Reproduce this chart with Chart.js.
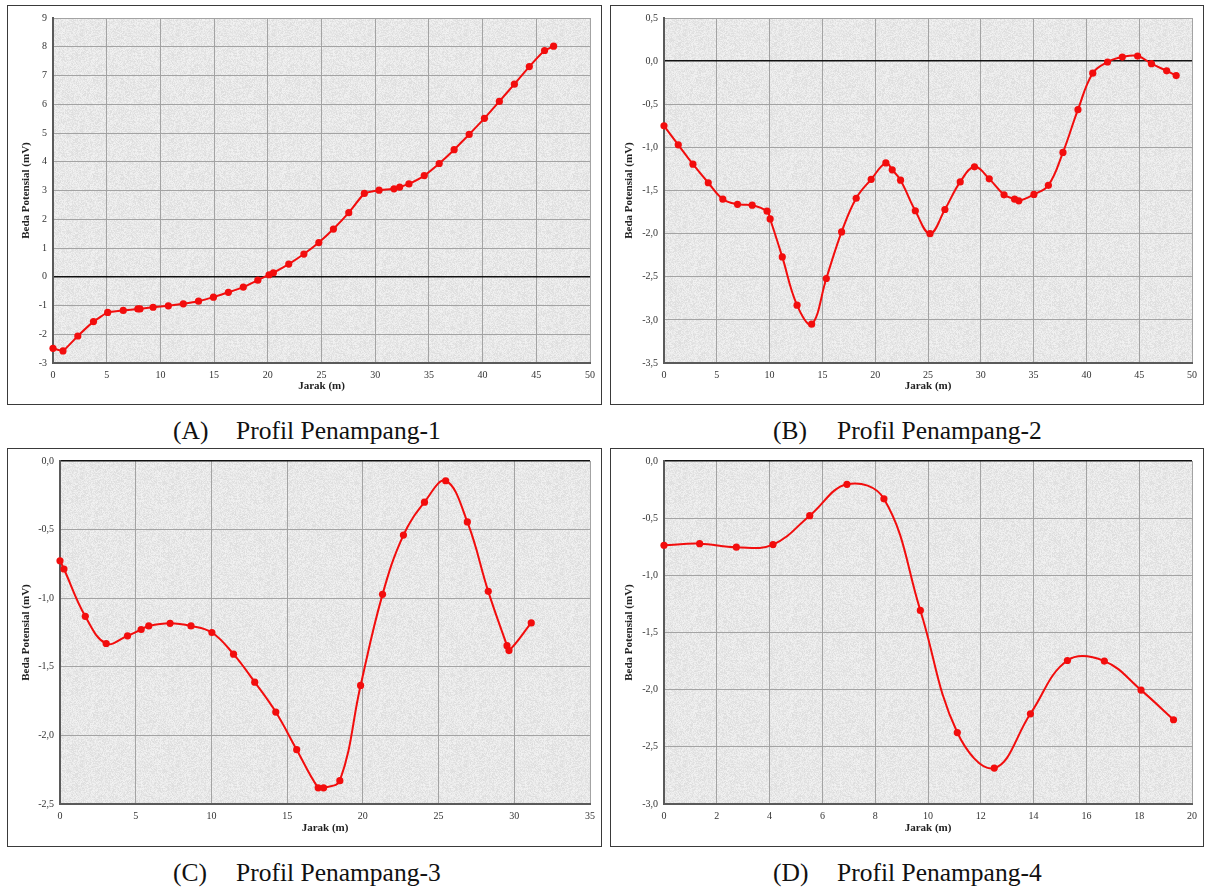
<!DOCTYPE html>
<html>
<head>
<meta charset="utf-8">
<script src="https://cdn.jsdelivr.net/npm/chart.js@4.4.0/dist/chart.umd.min.js"></script>
<style>
  body { margin: 0; background: #fff; width: 1205px; height: 889px; position: relative; overflow: hidden; }
  .panel { position: absolute; border: 1px solid #3a3a3a; box-sizing: border-box; }
  .panel canvas { position: absolute; left: 0; top: 0; }
  .cap { position: absolute; font-family: "Liberation Serif", "Times New Roman", serif; font-size: 25.5px; color: #111; white-space: nowrap; line-height: 1; }
</style>
</head>
<body>
<div class="panel" style="left:7px;top:5px;width:595px;height:400px"><canvas id="chartA" width="593" height="398"></canvas></div>
<div class="panel" style="left:610px;top:5px;width:594px;height:400px"><canvas id="chartB" width="592" height="398"></canvas></div>
<div class="panel" style="left:7px;top:448px;width:595px;height:399px"><canvas id="chartC" width="593" height="397"></canvas></div>
<div class="panel" style="left:610px;top:448px;width:594px;height:399px"><canvas id="chartD" width="592" height="397"></canvas></div>

<div class="cap" style="left:173px;top:418px">(A)</div><div class="cap" style="left:236px;top:418px">Profil Penampang-1</div>
<div class="cap" style="left:773px;top:418px">(B)</div><div class="cap" style="left:837px;top:418px">Profil Penampang-2</div>
<div class="cap" style="left:173px;top:860px">(C)</div><div class="cap" style="left:236px;top:860px">Profil Penampang-3</div>
<div class="cap" style="left:773px;top:860px">(D)</div><div class="cap" style="left:837px;top:860px">Profil Penampang-4</div>

<script>
// data (jarak in m, beda potensial in mV)
const jarak1 = [0, 0.93, 2.31, 3.77, 5.09, 6.54, 7.9, 8.1, 9.32, 10.74, 12.13, 13.55, 14.94, 16.33, 17.72, 19.07, 20.12, 20.52, 21.95, 23.36, 24.75, 26.11, 27.54, 28.99, 30.36, 31.75, 32.28, 33.14, 34.57, 35.96, 37.35, 38.75, 40.17, 41.56, 42.96, 44.35, 45.77, 46.61]
const potensial1 = [-2.49, -2.58, -2.06, -1.56, -1.24, -1.17, -1.12, -1.12, -1.06, -1.01, -0.94, -0.85, -0.71, -0.54, -0.36, -0.12, 0.07, 0.14, 0.44, 0.79, 1.19, 1.66, 2.23, 2.90, 3.01, 3.06, 3.12, 3.23, 3.52, 3.94, 4.42, 4.95, 5.51, 6.10, 6.70, 7.31, 7.87, 8.02]

const jarak2 = [0, 1.35, 2.74, 4.19, 5.57, 6.96, 8.35, 9.76, 10.05, 11.2, 12.6, 13.98, 15.37, 16.82, 18.2, 19.62, 21.01, 21.61, 22.4, 23.8, 25.19, 26.6, 28.05, 29.4, 30.8, 32.2, 33.2, 33.6, 35.03, 36.4, 37.78, 39.2, 40.6, 42.0, 43.4, 44.85, 46.16, 47.6, 48.5]
const potensial2 = [-0.75, -0.97, -1.195, -1.41, -1.60, -1.66, -1.67, -1.74, -1.83, -2.27, -2.83, -3.05, -2.52, -1.98, -1.59, -1.37, -1.18, -1.26, -1.38, -1.735, -2.00, -1.72, -1.40, -1.226, -1.365, -1.55, -1.60, -1.62, -1.545, -1.44, -1.058, -0.563, -0.14, -0.01, 0.047, 0.059, -0.03, -0.113, -0.167]

const jarak3 = [0, 0.26, 1.67, 3.05, 4.46, 5.36, 5.86, 7.27, 8.65, 10.03, 11.46, 12.86, 14.25, 15.63, 17.05, 17.41, 18.48, 19.85, 21.3, 22.68, 24.07, 25.47, 26.9, 28.28, 29.52, 29.65, 31.12]
const potensial3 = [-0.727, -0.787, -1.132, -1.33, -1.274, -1.228, -1.202, -1.183, -1.202, -1.25, -1.408, -1.612, -1.83, -2.104, -2.382, -2.382, -2.33, -1.636, -0.972, -0.54, -0.30, -0.144, -0.444, -0.95, -1.346, -1.382, -1.18]

const jarak4 = [0, 1.35, 2.74, 4.13, 5.52, 6.93, 8.33, 9.71, 11.11, 12.51, 13.88, 15.28, 16.68, 18.07, 19.30]
const potensial4 = [-0.737, -0.723, -0.754, -0.731, -0.478, -0.204, -0.331, -1.307, -2.375, -2.686, -2.211, -1.745, -1.75, -2.004, -2.263]

// axis ranges / ticks
const sumbuY1 = { min: -3, max: 9, step: 1 }
const sumbuY2 = { min: -3.5, max: 0.5, step: 0.5 }
const sumbuY3 = { min: -2.5, max: 0, step: 0.5 }
const sumbuY4 = { min: -3, max: 0, step: 0.5 }
const sumbuX1 = { min: 0, max: 50, step: 5 }
const sumbuX2 = { min: 0, max: 50, step: 5 }
const sumbuX3 = { min: 0, max: 35, step: 5 }
const sumbuX4 = { min: 0, max: 20, step: 2 }

// granite-ish background texture for plot area
function makeTexture() {
  const c = document.createElement("canvas")
  c.width = 96
  c.height = 96
  const g = c.getContext("2d")
  const img = g.createImageData(96, 96)
  let seed = 12345
  for (let i = 0; i < 96 * 96; i++) {
    seed = (seed * 1103515245 + 12345) & 0x7fffffff
    const v = 230 + ((seed >> 8) % 22) - 9
    img.data[i * 4] = v
    img.data[i * 4 + 1] = v
    img.data[i * 4 + 2] = v
    img.data[i * 4 + 3] = 255
  }
  g.putImageData(img, 0, 0)
  return c
}
const tekstur = makeTexture()

const bgPlugin = {
  id: "bgPlot",
  beforeDraw(chart) {
    const { ctx, chartArea } = chart
    ctx.save()
    ctx.fillStyle = ctx.createPattern(tekstur, "repeat")
    ctx.fillRect(chartArea.left, chartArea.top, chartArea.right - chartArea.left, chartArea.bottom - chartArea.top)
    ctx.restore()
  },
}

const serif = "'Liberation Serif', 'Times New Roman', serif"

function fmtKoma(v, dec) {
  return dec ? v.toFixed(1).replace(".", ",") : String(v)
}

function buatGrafik(id, xs, ys, sx, sy, opt) {
  const titik = xs.map((x, i) => ({ x: x, y: ys[i] }))
  const chart = new Chart(document.getElementById(id), {
    type: "line",
    data: {
      datasets: [
        {
          data: titik,
          borderColor: "#f20d0d",
          backgroundColor: "#f20d0d",
          borderWidth: 2,
          pointRadius: 3.6,
          pointBorderWidth: 0,
          tension: opt.tension,
          clip: false,
        },
      ],
    },
    options: {
      responsive: false,
      animation: false,
      events: [],
      layout: { padding: { left: 0, top: opt.area[1], right: 10, bottom: 0 } },
      plugins: { legend: { display: false }, tooltip: { enabled: false } },
      scales: {
        x: {
          type: "linear",
          min: sx.min,
          max: sx.max,
          afterFit: (s) => { s.height = opt.xh },
          ticks: { stepSize: sx.step, padding: 6, color: "#333", font: { family: serif, size: 10 }, maxRotation: 0 },
          grid: { color: "#a3a3a3", lineWidth: 1, drawTicks: false },
          border: { color: "#5a5a5a", width: 2 },
          title: { display: true, text: "Jarak (m)", color: "#222", font: { family: serif, size: 11, weight: "bold" }, padding: { top: 0, bottom: 11 } },
        },
        y: {
          type: "linear",
          min: sy.min,
          max: sy.max,
          afterFit: (s) => { s.width = opt.yw },
          ticks: {
            stepSize: sy.step,
            padding: 6,
            color: "#333",
            font: { family: serif, size: 10 },
            callback: (v) => fmtKoma(v, opt.dec),
          },
          grid: {
            color: (c) => (c.tick && c.tick.value === 0 ? "#111" : "#a3a3a3"),
            lineWidth: (c) => (c.tick && c.tick.value === 0 ? 1.5 : 1),
            drawTicks: false,
          },
          border: { color: "#5a5a5a", width: 2 },
          title: { display: true, text: "Beda Potensial (mV)", color: "#222", font: { family: serif, size: 11, weight: "bold" }, padding: { top: 12, bottom: 0 } },
        },
      },
    },
    plugins: [bgPlugin],
  })
  // nudge padding so the plot area lands where the original one sits
  const [l, t, r, b] = opt.area
  const a = chart.chartArea
  const pad = chart.options.layout.padding
  opt.yw += l - a.left
  pad.top += t - a.top
  pad.right += a.right - r
  opt.xh += a.bottom - b
  chart.update()
}

buatGrafik("chartA", jarak1, potensial1, sumbuX1, sumbuY1, { tension: 0.1, area: [45, 9, 583, 357], xh: 41, yw: 45, dec: false })
buatGrafik("chartB", jarak2, potensial2, sumbuX2, sumbuY2, { tension: 0.4, area: [53, 9, 583, 357], xh: 41, yw: 53, dec: true })
buatGrafik("chartC", jarak3, potensial3, sumbuX3, sumbuY3, { tension: 0.4, area: [52, 7, 583, 355], xh: 42, yw: 52, dec: true })
buatGrafik("chartD", jarak4, potensial4, sumbuX4, sumbuY4, { tension: 0.4, area: [53, 7, 583, 355], xh: 42, yw: 53, dec: true })
</script>
</body>
</html>
